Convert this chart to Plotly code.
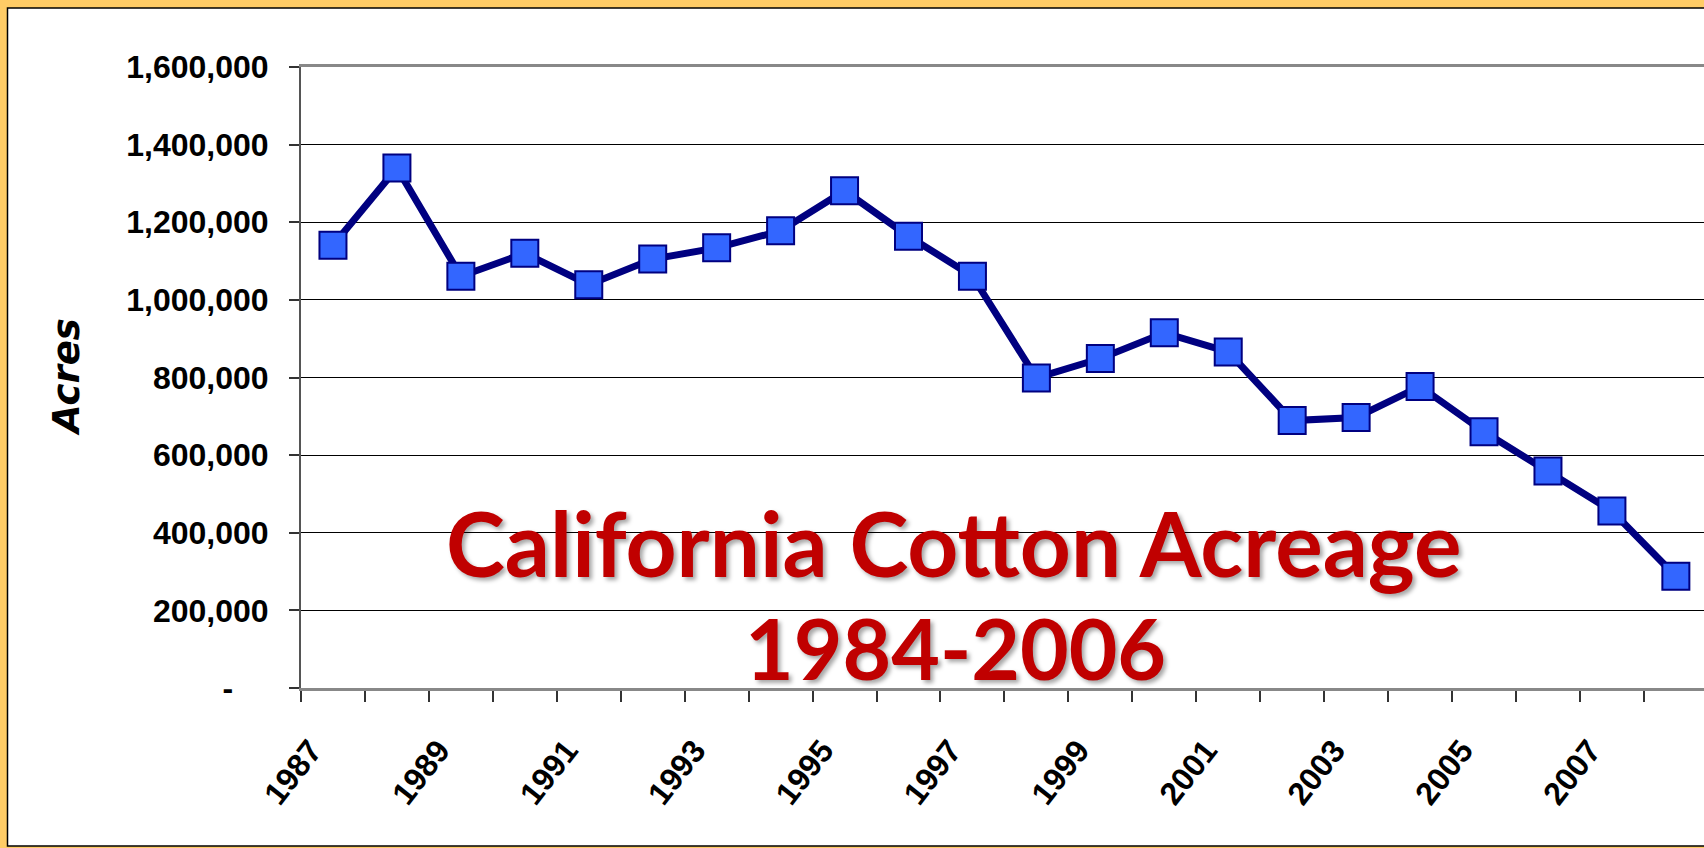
import plotly.graph_objects as go

# ---- data ----
years = list(range(1987, 2009))
acres = [1141000, 1340000, 1061000, 1120000, 1039000, 1105000, 1134000, 1178000,
         1281000, 1164000, 1061000, 799000, 849000, 915000, 866000, 689000,
         697000, 777000, 660000, 559000, 456000, 288000]

x_tick_years = [1987, 1989, 1991, 1993, 1995, 1997, 1999, 2001, 2003, 2005, 2007]
x_tick_labels = [str(y) for y in x_tick_years]
y_tick_values = [0, 200000, 400000, 600000, 800000, 1000000, 1200000, 1400000, 1600000]
y_tick_labels = ["-\u00a0\u00a0\u00a0\u00a0", "200,000", "400,000", "600,000", "800,000",
                 "1,000,000", "1,200,000", "1,400,000", "1,600,000"]

title_line1 = "California Cotton Acreage"
title_line2 = "1984-2006"
y_title = "Acres"

W, H = 1704, 848
L, R, T, B = 301, 0, 67, 160
pw, ph = W - L - R, H - T - B

def px_x(p):
    return (p - L) / pw

def px_y(p):
    return (H - B - p) / ph

fig = go.Figure()
fig.add_trace(go.Scatter(
    x=years, y=acres, mode="lines+markers",
    line=dict(color="#000080", width=7),
    marker=dict(symbol="square", size=27, color="#3366FF",
                line=dict(color="#000080", width=2)),
    showlegend=False, hoverinfo="x+y",
))

fig.update_layout(
    width=W, height=H,
    margin=dict(l=L, r=R, t=T, b=B, autoexpand=False),
    paper_bgcolor="#FFCC66",
    plot_bgcolor="white",
    xaxis=dict(
        type="linear", range=[1986.5, 2008.44],
        tickmode="array", tickvals=x_tick_years, ticktext=x_tick_labels,
        ticks="", tickangle=-52,
        tickfont=dict(family="Liberation Sans", size=32, color="black", weight="bold"),
        ticklabelstandoff=28, ticklabelshift=-22,
        showgrid=False, zeroline=False,
        showline=True, linecolor="#888888", linewidth=2.5, mirror=True,
        minor=dict(tick0=1986.5, dtick=1, ticks="outside", ticklen=11,
                   tickcolor="#333333", tickwidth=1.5, showgrid=False),
    ),
    yaxis=dict(
        range=[0, 1600000],
        tickmode="array", tickvals=y_tick_values, ticktext=y_tick_labels,
        ticks="outside", ticklen=10, tickcolor="#333333", tickwidth=1.5,
        tickfont=dict(family="Liberation Sans", size=32, color="black", weight="bold"),
        ticklabelstandoff=14,
        showgrid=True, gridcolor="#000000", gridwidth=1,
        zeroline=False,
        showline=True, linecolor="#555555", linewidth=2,
    ),
    shapes=[dict(type="rect", xref="paper", yref="paper",
                 x0=px_x(7.5), x1=px_x(W + 10), y0=px_y(846), y1=px_y(8),
                 line=dict(color="black", width=1.5), fillcolor="white", layer="below")],
    annotations=[
        dict(text=y_title, xref="paper", yref="paper", x=px_x(66), y=px_y(377),
             xanchor="center", yanchor="middle", textangle=-90, showarrow=False,
             font=dict(family="DejaVu Sans", size=37, color="black", weight="bold", style="italic")),
        dict(text=title_line1, xref="paper", yref="paper", x=px_x(954), y=px_y(542),
             xanchor="center", yanchor="middle", showarrow=False,
             font=dict(family="Lato", size=89, color="#C00000", weight="bold",
                       shadow="3px 3px 4px rgba(0,0,0,0.35)")),
        dict(text=title_line2, xref="paper", yref="paper", x=px_x(955), y=px_y(647),
             xanchor="center", yanchor="middle", showarrow=False,
             font=dict(family="Lato", size=84, color="#C00000", weight="bold",
                       shadow="3px 3px 4px rgba(0,0,0,0.35)")),
    ],
)

fig.write_html("out.html", config={"displayModeBar": False},
               post_script="document.body.style.margin='0px';document.body.style.overflow='hidden';")
